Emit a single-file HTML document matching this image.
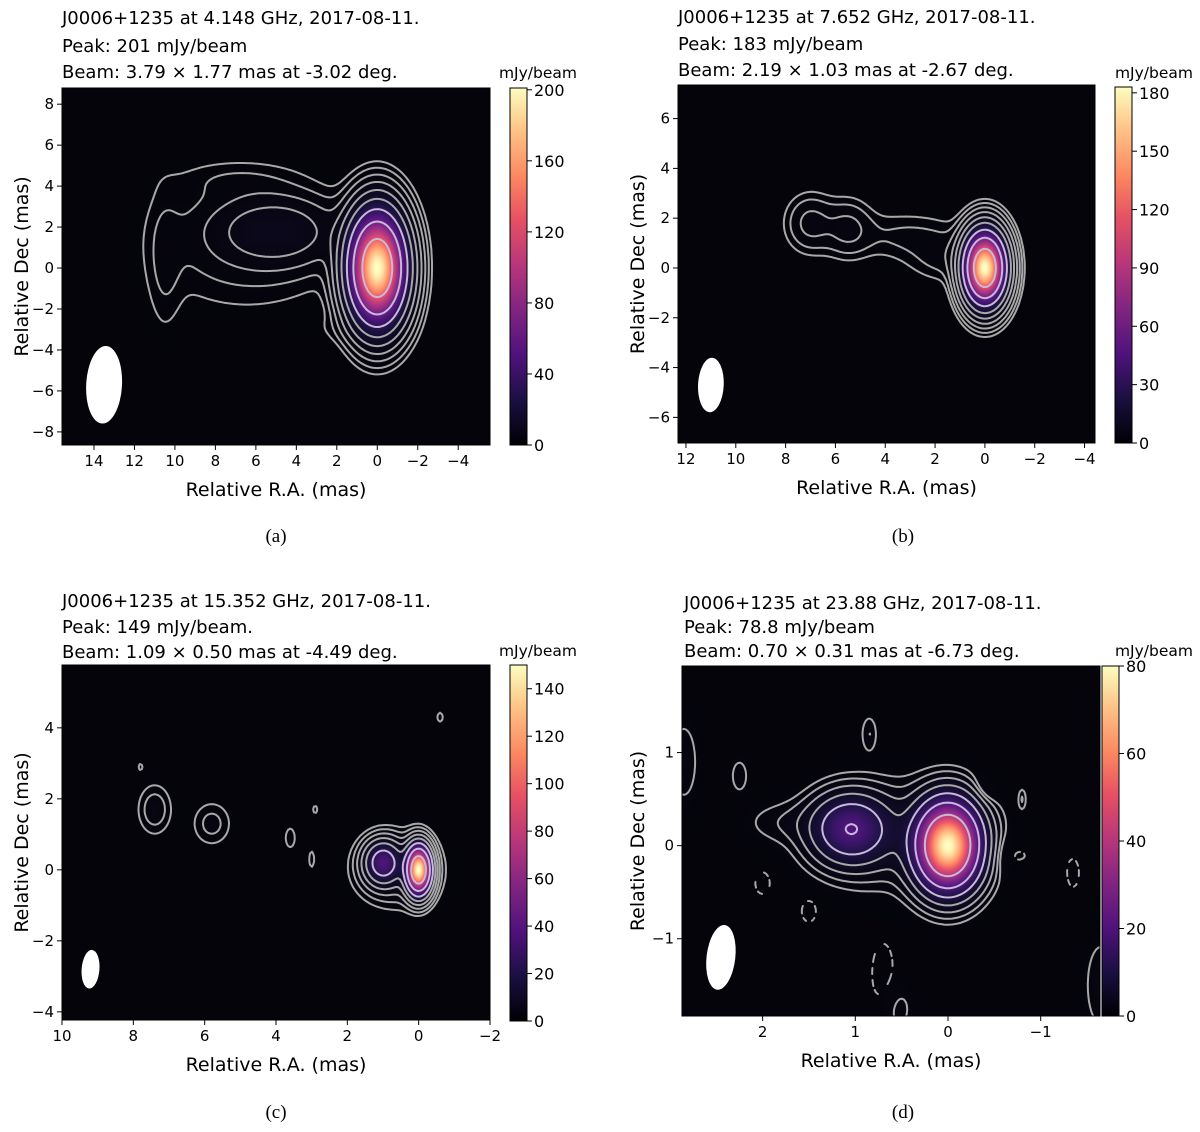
<!DOCTYPE html>
<html><head><meta charset="utf-8">
<style>
html,body{margin:0;padding:0;background:#fff;}
#wrap{position:relative;width:1200px;height:1132px;overflow:hidden;}
canvas{position:absolute;}
svg{position:absolute;left:0;top:0;}
text{font-family:"DejaVu Sans","Liberation Sans",sans-serif;fill:#000;}
.cap{font-family:"Liberation Serif",serif;font-size:19px;}
</style></head>
<body>
<div id="wrap">
<svg id="svg" width="1200" height="1132"></svg>
</div>
<script>
// ---- data ----
const aTitle = ["J0006+1235 at 4.148 GHz, 2017-08-11.","Peak: 201 mJy/beam","Beam: 3.79 \u00d7 1.77 mas at -3.02 deg."];
const bTitle = ["J0006+1235 at 7.652 GHz, 2017-08-11.","Peak: 183 mJy/beam","Beam: 2.19 \u00d7 1.03 mas at -2.67 deg."];
const cTitle = ["J0006+1235 at 15.352 GHz, 2017-08-11.","Peak: 149 mJy/beam.","Beam: 1.09 \u00d7 0.50 mas at -4.49 deg."];
const dTitle = ["J0006+1235 at 23.88 GHz, 2017-08-11.","Peak: 78.8 mJy/beam","Beam: 0.70 \u00d7 0.31 mas at -6.73 deg."];
const aXTicks=[14,12,10,8,6,4,2,0,-2,-4], aYTicks=[8,6,4,2,0,-2,-4,-6,-8], aCbTicks=[0,40,80,120,160,200];
const bXTicks=[12,10,8,6,4,2,0,-2,-4], bYTicks=[6,4,2,0,-2,-4,-6], bCbTicks=[0,30,60,90,120,150,180];
const cXTicks=[10,8,6,4,2,0,-2], cYTicks=[4,2,0,-2,-4], cCbTicks=[0,20,40,60,80,100,120,140];
const dXTicks=[2,1,0,-1], dYTicks=[1,0,-1], dCbTicks=[0,20,40,60,80];
// gaussian components: [ra, dec, sigmaRA, sigmaDec, peak mJy]
const aComps=[[0,0,0.78,1.5,200],[5,1.8,1.8,1.0,6],[6.5,1.2,3.0,2.0,1.5],[10.5,0.3,0.55,2.3,0.9],[7,4.3,2.0,0.6,0.7],[1.5,-3,1.5,0.5,0.4]];
const bComps=[[0,0,0.46,0.8,182],[7,1.8,0.6,0.7,2.2],[5.5,1.6,0.6,0.7,2.0],[3.2,1.3,1.5,0.6,1.0],[1.5,0.4,1.0,0.6,1.2]];
const cComps=[[0,0,0.2,0.38,148],[1,0.2,0.3,0.35,32],[0.6,0,0.7,0.6,4],[7.4,1.7,0.3,0.45,2.2],[5.8,1.3,0.35,0.4,1.8],[3.6,0.9,0.12,0.25,1.2],[3.0,0.3,0.08,0.25,1.0],[-0.6,4.3,0.07,0.12,1.2],[7.8,2.9,0.06,0.1,1.0],[2.9,1.7,0.07,0.12,1.0]];
const dComps=[[0,0,0.2,0.27,78],[1.05,0.18,0.25,0.22,18],[0.5,0.1,0.55,0.35,2.5],[1.75,0.25,0.3,0.15,1.0],[0.85,1.2,0.06,0.14,1.2],[2.25,0.75,0.07,0.14,1.0],[2.85,0.9,0.12,0.35,1.0],[-1.65,-1.5,0.12,0.35,1.2],[-0.8,0.5,0.03,0.08,1.2],[0.55,-1.75,0.12,0.2,1.0]];
const dNeg=[[-0.4,0.6,0.1,0.12,-1.0],[1.5,-0.7,0.08,0.12,-1.0],[2.0,-0.4,0.08,0.12,-1.0],[-0.55,-0.1,0.35,0.15,-1.0],[-1.35,-0.3,0.06,0.14,-1.0],[0.7,-1.4,0.12,0.35,-1.0]];
const aBeam=[13.5,-5.7,3.79,1.77,-3.02], bBeam=[11,-4.7,2.19,1.03,-2.67], cBeam=[9.2,-2.8,1.09,0.5,-4.49], dBeam=[2.45,-1.2,0.70,0.31,-6.73];
const aLevels=[0.5,1,2,4,8,16,32,64,128], bLevels=[0.45,0.9,1.8,3.6,7.2,14,29,58,115], cLevels=[0.7,1.4,2.8,5.6,11,22,45,90], dLevels=[0.6,1.2,2.4,4.8,9.6,19,38];

const panels=[
 {id:'a',title:aTitle,xt:aXTicks,yt:aYTicks,cbt:aCbTicks,comps:aComps,neg:[],beam:aBeam,lv:aLevels,vmax:201,
  px:62,py:88,pw:428,ph:357,xl:15.58,xr:-5.57,yt0:8.79,yb:-8.64,cbx:510,cby:88,cbh:357,
  tx:62,tyy:[24,52,78],cbl:[577,78],cap:[276,542],cyl:22},
 {id:'b',title:bTitle,xt:bXTicks,yt:bYTicks,cbt:bCbTicks,comps:bComps,neg:[],beam:bBeam,lv:bLevels,vmax:183,
  px:678,py:85,pw:417,ph:358,xl:12.32,xr:-4.42,yt0:7.35,yb:-7.03,cbx:1115,cby:87,cbh:356,
  tx:678,tyy:[23,50,76],cbl:[1193,78],cap:[903,542],cyl:638},
 {id:'c',title:cTitle,xt:cXTicks,yt:cYTicks,cbt:cCbTicks,comps:cComps,neg:[],beam:cBeam,lv:cLevels,vmax:150,
  px:62,py:665,pw:428,ph:355,xl:10,xr:-2,yt0:5.77,yb:-4.23,cbx:510,cby:665,cbh:356,
  tx:62,tyy:[607,633,658],cbl:[577,656],cap:[276,1118],cyl:22},
 {id:'d',title:dTitle,xt:dXTicks,yt:dYTicks,cbt:dCbTicks,comps:dComps,neg:dNeg,beam:dBeam,lv:dLevels,vmax:80,
  px:682,py:666,pw:418,ph:350,xl:2.87,xr:-1.64,yt0:1.93,yb:-1.83,cbx:1102,cby:666,cbh:350,
  tx:684,tyy:[609,633,657],cbl:[1193,656],cap:[903,1118],cyl:638}
];
const magma=[[0,0,0,4],[0.13,28,16,68],[0.25,79,18,123],[0.38,129,37,129],[0.5,181,54,122],[0.63,229,80,100],[0.75,251,135,97],[0.88,254,194,135],[1,252,253,191]];
function cmap(t){t=Math.max(0,Math.min(1,t));for(let i=1;i<magma.length;i++){if(t<=magma[i][0]){const a=magma[i-1],b=magma[i],f=(t-a[0])/(b[0]-a[0]);return [a[1]+f*(b[1]-a[1]),a[2]+f*(b[2]-a[2]),a[3]+f*(b[3]-a[3])];}}return [252,253,191];}
const NS='http://www.w3.org/2000/svg';
const svg=document.getElementById('svg'), wrap=document.getElementById('wrap');
function el(tag,attrs,parent){const e=document.createElementNS(NS,tag);for(const k in attrs)e.setAttribute(k,attrs[k]);(parent||svg).appendChild(e);return e;}
function txt(s,attrs,parent){const e=el('text',attrs,parent);e.textContent=s;return e;}
function field(comps,x,y){let v=0;for(const c of comps){const dx=(x-c[0])/c[2],dy=(y-c[1])/c[3];v+=c[4]*Math.exp(-0.5*(dx*dx+dy*dy));}return v;}

panels.forEach(P=>{
 const X=v=>P.px+(P.xl-v)/(P.xl-P.xr)*P.pw;
 const Y=v=>P.py+(P.yt0-v)/(P.yt0-P.yb)*P.ph;
 const IX=px=>P.xl-(px-P.px)/P.pw*(P.xl-P.xr);
 const IY=py=>P.yt0-(py-P.py)/P.ph*(P.yt0-P.yb);
 const g=el('g',{});
 
 
 const cv=document.createElement('canvas');cv.width=P.pw;cv.height=P.ph;
 cv.style.left=P.px+'px';cv.style.top=P.py+'px';
 
 
 wrap.insertBefore(cv,svg);
 const ctx=cv.getContext('2d'),im=ctx.createImageData(P.pw,P.ph);
 const all=P.comps.concat(P.neg);
 for(let j=0;j<P.ph;j++)for(let i=0;i<P.pw;i++){const v=field(P.comps,IX(P.px+i+0.5),IY(P.py+j+0.5));const c=cmap(v/P.vmax);const k=(j*P.pw+i)*4;im.data[k]=c[0]+4;im.data[k+1]=c[1]+4;im.data[k+2]=c[2]+6;im.data[k+3]=255;}
 ctx.putImageData(im,0,0);
 const st=2,nx=Math.ceil(P.pw/st)+1,ny=Math.ceil(P.ph/st)+1,grid=[];
 for(let j=0;j<ny;j++){grid.push([]);for(let i=0;i<nx;i++)grid[j].push(field(all,IX(P.px+i*st),IY(P.py+j*st)));}
 const clip=el('clipPath',{id:'clip'+P.id},g);el('rect',{x:P.px,y:P.py,width:P.pw,height:P.ph},clip);
 const cg=el('g',{'clip-path':'url(#clip'+P.id+')'},g);
 
 
 const levels=P.lv.concat(P.neg.length?[-P.lv[0]]:[]);
 levels.forEach(L=>{
  let d='';
  const sgn=L<0?-1:1,LL=Math.abs(L);
  for(let j=0;j<ny-1;j++)for(let i=0;i<nx-1;i++){
   if(L<0 && Math.floor((i+j)/3)%2===1) continue;
   const v=[grid[j][i]*sgn,grid[j][i+1]*sgn,grid[j+1][i+1]*sgn,grid[j+1][i]*sgn];
   const pos=[[i,j],[i+1,j],[i+1,j+1],[i,j+1]],pts=[];
   for(let e=0;e<4;e++){const a=v[e],b=v[(e+1)%4];if((a>=LL)!==(b>=LL)){const f=(LL-a)/(b-a),pa=pos[e],pb=pos[(e+1)%4];pts.push([P.px+(pa[0]+f*(pb[0]-pa[0]))*st,P.py+(pa[1]+f*(pb[1]-pa[1]))*st]);}}
   for(let q=0;q+1<pts.length;q+=2)d+='M'+pts[q][0].toFixed(1)+' '+pts[q][1].toFixed(1)+'L'+pts[q+1][0].toFixed(1)+' '+pts[q+1][1].toFixed(1);
  }
  const light=L>=P.lv[Math.max(0,P.lv.length-3)];
  const p=el('path',{d:d,fill:'none',stroke:light?'#c9b8d8':'#a8a8a8','stroke-width':2,'stroke-linecap':'round'},cg);
  
  
 });
 const b=P.beam,sc=P.pw/(P.xl-P.xr),scy=P.ph/(P.yt0-P.yb);
 const be=el('ellipse',{cx:X(b[0]),cy:Y(b[1]),rx:b[3]/2*sc,ry:b[2]/2*scy,fill:'#fff',transform:`rotate(${-b[4]} ${X(b[0])} ${Y(b[1])})`},g);
 
 
 const fr=el('rect',{x:P.px,y:P.py,width:P.pw,height:P.ph,fill:'none',stroke:'#000','stroke-width':1},g);
 
 
 P.xt.forEach(t=>{const x=X(t);el('line',{x1:x,x2:x,y1:P.py+P.ph,y2:P.py+P.ph+5,stroke:'#000'},g);
  const tl=txt(t<0?'\u2212'+(-t):String(t),{x:x,y:P.py+P.ph+21,'text-anchor':'middle','font-size':15},g);
  
  });
 P.yt.forEach(t=>{const y=Y(t);el('line',{x1:P.px-5,x2:P.px,y1:y,y2:y,stroke:'#000'},g);
  const tl=txt(t<0?'\u2212'+(-t):String(t),{x:P.px-8,y:y+5,'text-anchor':'end','font-size':15},g);
  
  });
 const xl=txt('Relative R.A. (mas)',{x:P.px+P.pw/2,y:P.py+P.ph+51,'text-anchor':'middle','font-size':19},g);
 
 
 const cyy=P.py+P.ph/2;
 const yl=txt('Relative Dec (mas)',{x:P.cyl,y:cyy,'text-anchor':'middle','font-size':19,transform:`rotate(-90 ${P.cyl} ${cyy})`},g);
 yl.setAttribute('dy','6');
 
 
 P.title.forEach((s,i)=>{const t=txt(s,{x:P.tx,y:P.tyy[i],'font-size':18},g);
  
  });
 const gid='cbg'+P.id,lg=el('linearGradient',{id:gid,x1:0,y1:1,x2:0,y2:0},g);
 magma.forEach(m=>el('stop',{offset:m[0],'stop-color':`rgb(${m[1]|0},${m[2]|0},${m[3]|0})`},lg));
 const cb=el('rect',{x:P.cbx,y:P.cby,width:17,height:P.cbh,fill:`url(#${gid})`,stroke:'#000','stroke-width':1},g);
 
 
 P.cbt.forEach(t=>{const y=P.cby+P.cbh-t/P.vmax*P.cbh;el('line',{x1:P.cbx+17,x2:P.cbx+22,y1:y,y2:y,stroke:'#000'},g);
  const tl=txt(String(t),{x:P.cbx+24,y:y+6,'font-size':16},g);
  
  });
 const cl=txt('mJy/beam',{x:P.cbl[0],y:P.cbl[1],'text-anchor':'end','font-size':15.5},g);
 
 
 const cp=txt('('+P.id+')',{x:P.cap[0],y:P.cap[1],'text-anchor':'middle',class:'cap'},g);
 
 
});
</script>
</body></html>
